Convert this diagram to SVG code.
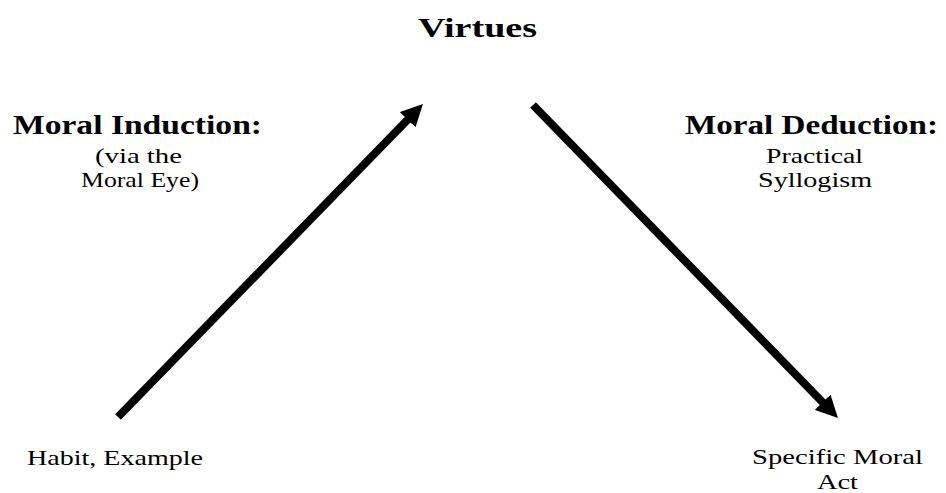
<svg xmlns="http://www.w3.org/2000/svg" width="946" height="493" viewBox="0 0 946 493">
<style>
  text { font-family: "Liberation Serif", "Times New Roman", serif; fill: #000; }
  .b { font-weight: bold; font-size: 27px; }
  .r { font-size: 22px; }
  .conn { stroke: #000; stroke-width: 8; fill: none; stroke-linecap: butt; }
</style>
<defs>
  <marker id="head" markerUnits="userSpaceOnUse" viewBox="0 0 22 22" markerWidth="22" markerHeight="22" refX="8" refY="11" orient="auto">
    <path d="M0,0 L22,11 L0,22 z" fill="#000"/>
  </marker>
</defs>
<rect width="946" height="493" fill="#fff"/>
<g id="connectors">
  <line class="conn" x1="118" y1="417" x2="413.2" y2="114" marker-end="url(#head)"/>
  <line class="conn" x1="533" y1="105" x2="828.2" y2="408" marker-end="url(#head)"/>
</g>
<g id="virtues">
  <text class="b" x="418" y="37" textLength="119" lengthAdjust="spacingAndGlyphs">Virtues</text>
</g>
<g id="moral-induction">
  <text class="b" x="13" y="134" textLength="249" lengthAdjust="spacingAndGlyphs">Moral Induction:</text>
  <text class="r" x="95" y="163" textLength="87" lengthAdjust="spacingAndGlyphs">(via the</text>
  <text class="r" x="81" y="187" textLength="118" lengthAdjust="spacingAndGlyphs">Moral Eye)</text>
</g>
<g id="moral-deduction">
  <text class="b" x="685" y="134" textLength="253" lengthAdjust="spacingAndGlyphs">Moral Deduction:</text>
  <text class="r" x="766" y="163" textLength="97" lengthAdjust="spacingAndGlyphs">Practical</text>
  <text class="r" x="758" y="187" textLength="114" lengthAdjust="spacingAndGlyphs">Syllogism</text>
</g>
<g id="habit-example">
  <text class="r" x="27" y="465" textLength="176" lengthAdjust="spacingAndGlyphs">Habit, Example</text>
</g>
<g id="specific-moral-act">
  <text class="r" x="752" y="464" textLength="171" lengthAdjust="spacingAndGlyphs">Specific Moral</text>
  <text class="r" x="817" y="489" textLength="41" lengthAdjust="spacingAndGlyphs">Act</text>
</g>
</svg>
